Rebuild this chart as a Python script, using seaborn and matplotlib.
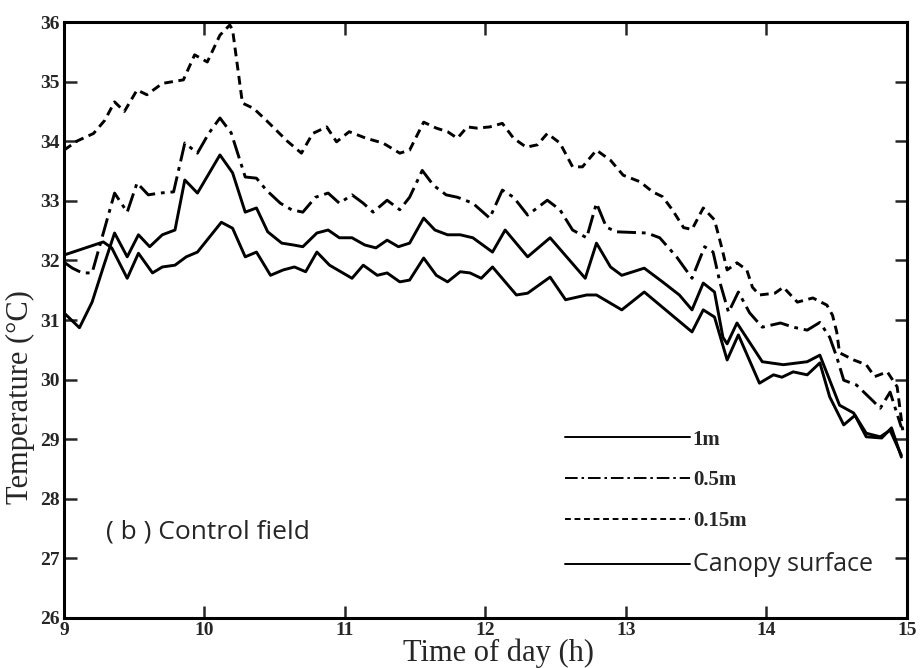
import matplotlib
matplotlib.use("Agg")
import matplotlib.pyplot as plt
import seaborn as sns
import pandas as pd

# ---------------- data ----------------
t_015 = [9.0, 9.09, 9.21, 9.29, 9.36, 9.43, 9.52, 9.59, 9.7, 9.85, 9.93, 10.02, 10.11, 10.18, 10.2,
         10.27, 10.35, 10.44, 10.59, 10.69, 10.77, 10.87, 10.94, 11.03, 11.15, 11.27, 11.39, 11.46,
         11.56, 11.65, 11.73, 11.8, 11.87, 11.94, 12.03, 12.12, 12.2, 12.29, 12.37, 12.44, 12.53,
         12.62, 12.69, 12.79, 12.89, 12.98, 13.1, 13.19, 13.26, 13.33, 13.41, 13.47, 13.55, 13.63,
         13.68, 13.72, 13.79, 13.86, 13.9, 13.95, 14.06, 14.12, 14.22, 14.33, 14.43, 14.47, 14.5,
         14.52, 14.62, 14.71, 14.77, 14.86, 14.93, 14.97]
v_015 = [33.85, 34.0, 34.13, 34.35, 34.66, 34.5, 34.86, 34.78, 34.97, 35.03, 35.45, 35.33, 35.78, 35.95, 35.87,
         34.64, 34.55, 34.35, 34.0, 33.8, 34.13, 34.24, 33.99, 34.16, 34.05, 33.97, 33.8, 33.85,
         34.32, 34.22, 34.16, 34.05, 34.24, 34.22, 34.24, 34.3, 34.05, 33.9, 33.94, 34.13, 33.97,
         33.57, 33.57, 33.85, 33.68, 33.43, 33.32, 33.15, 33.07, 32.85, 32.55, 32.52, 32.88, 32.68,
         32.23, 31.84, 31.96, 31.84, 31.55, 31.42, 31.45, 31.55, 31.3, 31.37, 31.25, 31.08, 30.8,
         30.45, 30.33, 30.25, 30.05, 30.13, 29.88, 29.15]

t_05 = [9.0, 9.06, 9.13, 9.2, 9.28, 9.36, 9.45, 9.52, 9.6, 9.68, 9.78, 9.86, 9.95, 10.03, 10.11, 10.19,
        10.29, 10.37, 10.44, 10.54, 10.62, 10.7, 10.79, 10.88, 10.96, 11.05, 11.13, 11.2, 11.3, 11.39,
        11.46, 11.55, 11.63, 11.72, 11.8, 11.91, 12.03, 12.12, 12.2, 12.3, 12.44, 12.53, 12.62, 12.72,
        12.79, 12.86, 12.93, 13.15, 13.24, 13.36, 13.47, 13.56, 13.62, 13.67, 13.73, 13.8, 13.88,
        13.97, 14.1, 14.19, 14.29, 14.38, 14.45, 14.5, 14.55, 14.64, 14.75, 14.81, 14.88, 14.96]
v_05 = [31.97, 31.87, 31.79, 31.79, 32.46, 33.13, 32.81, 33.3, 33.1, 33.13, 33.15, 33.97, 33.8, 34.13, 34.39, 34.14,
        33.4, 33.38, 33.18, 32.96, 32.85, 32.81, 33.06, 33.13, 32.96, 33.1, 32.96, 32.81, 33.01, 32.85,
        33.06, 33.51, 33.26, 33.1, 33.06, 32.96, 32.71, 33.18, 33.06, 32.76, 33.01, 32.85, 32.51, 32.38,
        32.96, 32.56, 32.48, 32.46, 32.38, 32.06, 31.7, 32.23, 32.14, 31.62, 31.13, 31.47, 31.12,
        30.88, 30.95, 30.88, 30.83, 30.96, 30.71, 30.38, 29.99, 29.91, 29.66, 29.52, 29.79, 29.2]

t_1m = [9.0, 9.28, 9.34, 9.45, 9.53, 9.63, 9.7, 9.79, 9.87, 9.95, 10.12, 10.2, 10.29, 10.37, 10.47,
        10.56, 10.64, 10.72, 10.8, 10.89, 11.05, 11.13, 11.23, 11.3, 11.39, 11.46, 11.56, 11.65, 11.73,
        11.82, 11.89, 11.97, 12.05, 12.22, 12.3, 12.46, 12.57, 12.72, 12.79, 12.97, 13.13, 13.47, 13.55,
        13.63, 13.72, 13.8, 13.95, 14.05, 14.11, 14.19, 14.29, 14.38, 14.45, 14.55, 14.63, 14.71,
        14.82, 14.89, 14.96]
v_1m = [32.09, 32.31, 32.21, 31.7, 32.12, 31.79, 31.89, 31.92, 32.06, 32.14, 32.64, 32.54, 32.06, 32.14, 31.75,
        31.84, 31.89, 31.81, 32.14, 31.92, 31.7, 31.92, 31.75, 31.79, 31.64, 31.67, 32.04, 31.75, 31.64,
        31.81, 31.79, 31.7, 31.89, 31.42, 31.45, 31.72, 31.34, 31.42, 31.42, 31.17, 31.47, 30.8, 31.17,
        31.05, 30.33, 30.75, 29.94, 30.08, 30.04, 30.13, 30.08, 30.28, 29.71, 29.24, 29.4, 29.04,
        29.02, 29.19, 28.7]

t_can = [9.0, 9.11, 9.2, 9.28, 9.36, 9.45, 9.53, 9.61, 9.7, 9.79, 9.86, 9.95, 10.11, 10.2, 10.29, 10.37,
         10.45, 10.55, 10.63, 10.7, 10.8, 10.88, 10.96, 11.05, 11.14, 11.22, 11.3, 11.38, 11.46, 11.56,
         11.64, 11.73, 11.82, 11.91, 12.05, 12.14, 12.3, 12.46, 12.71, 12.79, 12.89, 12.97, 13.13, 13.26,
         13.38, 13.47, 13.55, 13.63, 13.69, 13.72, 13.79, 13.97, 14.12, 14.29, 14.38, 14.52, 14.62,
         14.71, 14.81, 14.88, 14.96]
v_can = [31.12, 30.87, 31.3, 31.89, 32.46, 32.06, 32.43, 32.23, 32.43, 32.51, 33.35, 33.13, 33.77, 33.47, 32.81, 32.88,
         32.48, 32.29, 32.26, 32.23, 32.46, 32.51, 32.38, 32.38, 32.26, 32.21, 32.34, 32.23, 32.29, 32.71,
         32.51, 32.43, 32.43, 32.38, 32.14, 32.51, 32.06, 32.38, 31.7, 32.29, 31.89, 31.75, 31.87, 31.64,
         31.42, 31.17, 31.62, 31.47, 30.71, 30.6, 30.95, 30.3, 30.25, 30.3, 30.41, 29.57, 29.44,
         29.1, 29.04, 29.15, 28.73]

series_names = ["1m", "0.5m", "0.15m", "Canopy surface"]
x_ticks = [9, 10, 11, 12, 13, 14, 15]
y_ticks = [26, 27, 28, 29, 30, 31, 32, 33, 34, 35, 36]

assert len(t_015) == len(v_015) and len(t_05) == len(v_05)
assert len(t_1m) == len(v_1m) and len(t_can) == len(v_can)

frames = []
for name, t, v in zip(series_names, [t_1m, t_05, t_015, t_can], [v_1m, v_05, v_015, v_can]):
    frames.append(pd.DataFrame({"hour": t, "temp": v, "series": name}))
df = pd.concat(frames, ignore_index=True)

# ---------------- style ----------------
sns.set_style("ticks")
plt.rcParams["font.family"] = ["Liberation Serif", "DejaVu Serif"]

dash_styles = {
    "1m": "",
    "0.5m": (6.5, 2.0, 1.3, 2.0),
    "0.15m": (3.0, 1.9),
    "Canopy surface": "",
}

fig = plt.figure(figsize=(9.22, 6.68), dpi=100)
ax = fig.add_axes([0.0694, 0.0749, 0.9143, 0.8921])

for name in series_names:
    sub = df[df["series"] == name]
    sns.lineplot(data=sub, x="hour", y="temp", ax=ax, color="black", lw=2.1,
                 estimator=None, sort=False, label=name, dashes=False)
for line, name in zip(ax.get_lines(), series_names):
    d = dash_styles[name]
    if d:
        line.set_dashes(d)

ax.set_xlim(9, 15)
ax.set_ylim(26, 36)
ax.set_xticks(x_ticks)
ax.set_yticks(y_ticks)
ax.set_xticklabels([str(v) for v in x_ticks], fontweight="bold", fontsize=14)
ax.set_yticklabels([str(v) for v in y_ticks], fontweight="bold", fontsize=14)
ax.tick_params(direction="in", length=9, width=1.8, top=True, right=True, pad=3)
for sp in ax.spines.values():
    sp.set_linewidth(2.2)
    sp.set_color("black")

ax.set_xlabel("Time of day (h)", fontsize=22, labelpad=0)
ax.xaxis.set_label_coords(0.516, -0.035, transform=ax.transAxes)
ax.xaxis.label.set_va("top")
ax.set_ylabel("Temperature (°C)", fontsize=22)
ax.yaxis.set_label_coords(-0.052, 0.37, transform=ax.transAxes)
ax.yaxis.label.set_va("center")

ax.text(9.3, 27.45, "( b ) Control field", fontsize=19, family=["Open Sans", "DejaVu Sans"],
        va="center", ha="left")

leg = ax.legend(loc="upper left", bbox_to_anchor=(0.594, 0.316), frameon=False,
                handlelength=6.0, handletextpad=0.15, labelspacing=1.0,
                borderpad=0, borderaxespad=0, fontsize=15)
for txt in leg.get_texts():
    txt.set_fontweight("bold")
leg.get_texts()[3].set_fontweight("normal")
leg.get_texts()[3].set_fontsize(18)
leg.get_texts()[3].set_family(["Open Sans", "DejaVu Sans"])
for h in leg.get_lines():
    h.set_linewidth(1.4)

fig.savefig("out.png", dpi=100)
